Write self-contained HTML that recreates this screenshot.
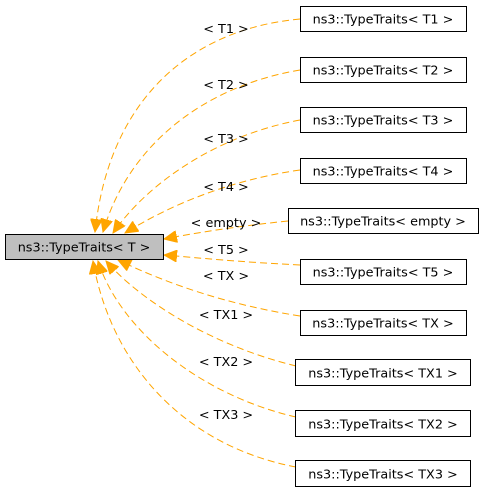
<!DOCTYPE html>
<html><head><meta charset="utf-8"><style>
html,body{margin:0;padding:0;background:#fff;}
svg{display:block;font-family:"DejaVu Sans","Liberation Sans",sans-serif;font-size:12.8px;}
</style></head><body>
<svg width="484" height="493" viewBox="0 0 484 493" xmlns="http://www.w3.org/2000/svg">
<defs>
<marker id="a" markerUnits="userSpaceOnUse" markerWidth="14" markerHeight="12" refX="13" refY="6" orient="auto">
<path d="M0,0 L13,6 L0,12 Z" fill="orange" stroke="orange"/>
</marker>
</defs>
<g fill="none" stroke="orange" stroke-dasharray="7,4" stroke-width="1" marker-end="url(#a)">
<path d="M300,19 C200,28 110,90 95,232"/>
<path d="M300,70 C210,85 130,140 103,232"/>
<path d="M300,120 C220,135 150,180 113,233"/>
<path d="M300,170 C230,180 170,205 125,233"/>
<path d="M288,221 C240,226 200,232 164,239"/>
<path d="M300,265 C240,262 200,258 164,255"/>
<path d="M300,316 C230,305 170,285 118,260"/>
<path d="M296,366 C210,345 140,300 106,261"/>
<path d="M296,417 C200,395 120,330 98,261"/>
<path d="M296,467 C180,445 110,360 93,261"/>
</g>
<rect x="5.5" y="234.5" width="158" height="25" fill="#bfbfbf" stroke="#000"/>
<text x="84" y="251.5" text-anchor="middle">ns3::TypeTraits&lt; T &gt;</text>
<g fill="#fff" stroke="#000">
<rect x="300.5" y="6.5" width="166" height="25"/>
<rect x="300.5" y="57.5" width="166" height="25"/>
<rect x="300.5" y="107.5" width="166" height="25"/>
<rect x="300.5" y="158.5" width="166" height="25"/>
<rect x="288.5" y="208.5" width="190" height="25"/>
<rect x="300.5" y="259.5" width="166" height="25"/>
<rect x="300.5" y="310.5" width="166" height="25"/>
<rect x="295.5" y="359.5" width="175" height="26"/>
<rect x="295.5" y="410.5" width="175" height="26"/>
<rect x="295.5" y="460.5" width="175" height="26"/>
</g>
<g text-anchor="middle" fill="#000">
<text x="383" y="23.5">ns3::TypeTraits&lt; T1 &gt;</text>
<text x="383" y="74.5">ns3::TypeTraits&lt; T2 &gt;</text>
<text x="383" y="124.5">ns3::TypeTraits&lt; T3 &gt;</text>
<text x="383" y="175.5">ns3::TypeTraits&lt; T4 &gt;</text>
<text x="383" y="225.5">ns3::TypeTraits&lt; empty &gt;</text>
<text x="383" y="276.5">ns3::TypeTraits&lt; T5 &gt;</text>
<text x="383" y="327.5">ns3::TypeTraits&lt; TX &gt;</text>
<text x="383" y="377.5">ns3::TypeTraits&lt; TX1 &gt;</text>
<text x="383" y="428.5">ns3::TypeTraits&lt; TX2 &gt;</text>
<text x="383" y="478.5">ns3::TypeTraits&lt; TX3 &gt;</text>
<text x="226" y="33">&lt; T1 &gt;</text>
<text x="226" y="89">&lt; T2 &gt;</text>
<text x="226" y="143">&lt; T3 &gt;</text>
<text x="226" y="191">&lt; T4 &gt;</text>
<text x="226" y="227">&lt; empty &gt;</text>
<text x="226" y="254">&lt; T5 &gt;</text>
<text x="226" y="280">&lt; TX &gt;</text>
<text x="226" y="319">&lt; TX1 &gt;</text>
<text x="226" y="366">&lt; TX2 &gt;</text>
<text x="226" y="419">&lt; TX3 &gt;</text>
</g>
</svg>
</body></html>
